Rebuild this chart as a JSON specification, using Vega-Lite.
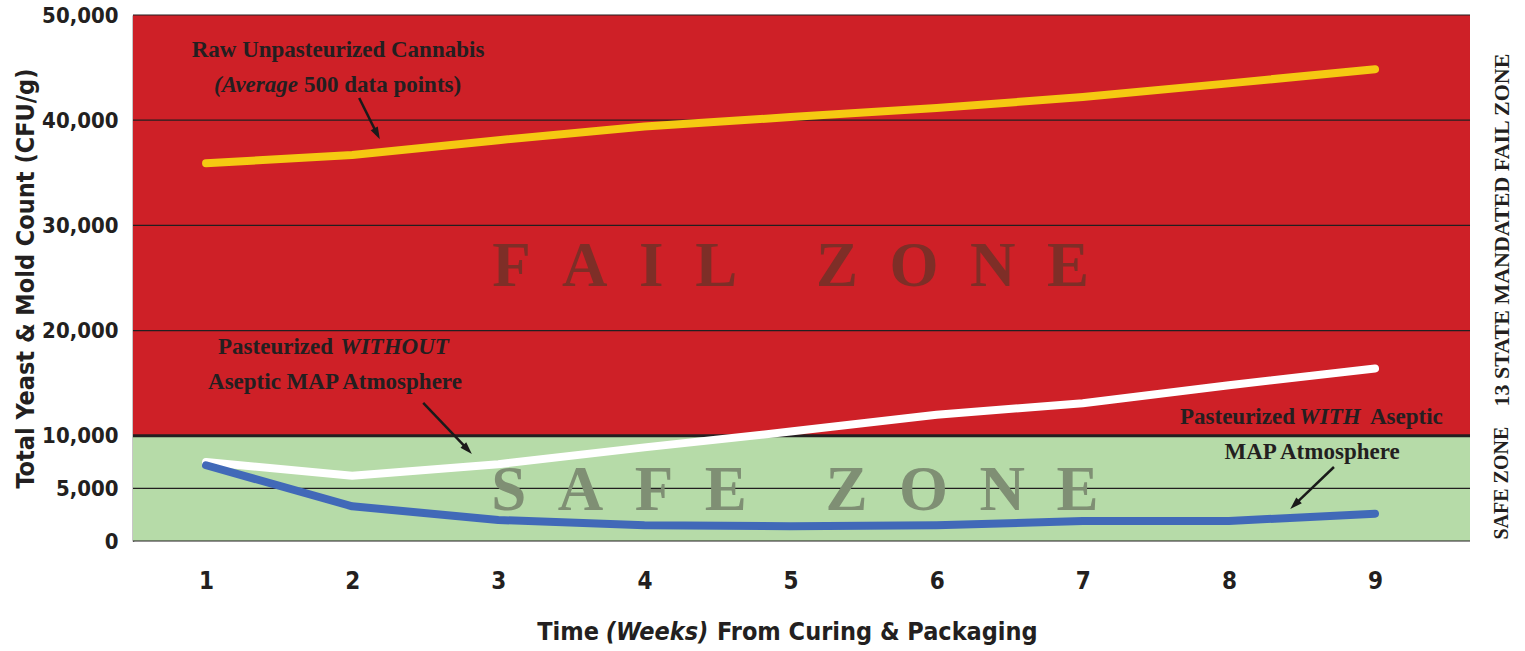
{
  "$schema": "https://vega.github.io/schema/vega-lite/v6.json",
  "width": 1337,
  "height": 526,
  "autosize": "none",
  "padding": {"left": 133, "top": 15, "right": 55, "bottom": 110},
  "background": "white",
  "config": {"view": {"stroke": null}},
  "datasets": {
    "series": [
      {"week": 1, "series": "Raw", "cfu": 35900},
      {"week": 2, "series": "Raw", "cfu": 36700},
      {"week": 3, "series": "Raw", "cfu": 38100},
      {"week": 4, "series": "Raw", "cfu": 39400},
      {"week": 5, "series": "Raw", "cfu": 40300},
      {"week": 6, "series": "Raw", "cfu": 41150},
      {"week": 7, "series": "Raw", "cfu": 42200},
      {"week": 8, "series": "Raw", "cfu": 43500},
      {"week": 9, "series": "Raw", "cfu": 44850},
      {"week": 1, "series": "Without", "cfu": 7500},
      {"week": 2, "series": "Without", "cfu": 6200},
      {"week": 3, "series": "Without", "cfu": 7300},
      {"week": 4, "series": "Without", "cfu": 8900},
      {"week": 5, "series": "Without", "cfu": 10400},
      {"week": 6, "series": "Without", "cfu": 12000},
      {"week": 7, "series": "Without", "cfu": 13100},
      {"week": 8, "series": "Without", "cfu": 14800},
      {"week": 9, "series": "Without", "cfu": 16400},
      {"week": 1, "series": "With", "cfu": 7200},
      {"week": 2, "series": "With", "cfu": 3300},
      {"week": 3, "series": "With", "cfu": 2000},
      {"week": 4, "series": "With", "cfu": 1500},
      {"week": 5, "series": "With", "cfu": 1400},
      {"week": 6, "series": "With", "cfu": 1500},
      {"week": 7, "series": "With", "cfu": 1900},
      {"week": 8, "series": "With", "cfu": 1900},
      {"week": 9, "series": "With", "cfu": 2600}
    ],
    "zones": [
      {"zone": "fail", "lo": 10000, "hi": 50000, "from": 0.5, "to": 9.65},
      {"zone": "safe", "lo": 0, "hi": 10000, "from": 0.5, "to": 9.65}
    ],
    "grid": [{"v": 0}, {"v": 5000}, {"v": 20000}, {"v": 30000}, {"v": 40000}, {"v": 50000}],
    "threshold": [{"v": 10000}],
    "arrows": [
      {"id": "raw", "x1": 2.048, "y1": 42110, "x2": 2.17, "y2": 38700},
      {"id": "without", "x1": 2.486, "y1": 13120, "x2": 2.79, "y2": 8700},
      {"id": "with", "x1": 8.719, "y1": 7034, "x2": 8.45, "y2": 3450}
    ]
  },
  "layer": [
    {
      "data": {"name": "zones"},
      "transform": [{"filter": "datum.zone === 'fail'"}],
      "mark": {"type": "rect", "color": "#CE2027"},
      "encoding": {
        "x": {"field": "from", "type": "quantitative",
              "scale": {"domain": [0.5, 9.65], "nice": false, "zero": false},
              "axis": {"values": [1, 2, 3, 4, 5, 6, 7, 8, 9], "format": "d",
                       "labelFont": "DejaVu Sans Condensed, Roboto", "labelFontWeight": "bold", "labelFontSize": 24,
                       "labelColor": "#231F20", "labelPadding": 28, "domain": false, "ticks": false, "grid": false,
                       "title": null}},
        "x2": {"field": "to"},
        "y": {"field": "lo", "type": "quantitative",
              "scale": {"domain": [0, 50000], "nice": false, "zero": true},
              "axis": {"values": [0, 5000, 10000, 20000, 30000, 40000, 50000], "format": ",.0f",
                       "labelFont": "DejaVu Sans Condensed, Roboto", "labelFontWeight": "bold", "labelFontSize": 22,
                       "labelColor": "#231F20", "labelPadding": 15, "ticks": false, "grid": false,
                       "domain": true, "domainColor": "#231F20", "domainWidth": 1.5,
                       "title": "Total Yeast & Mold Count (CFU/g)",
                       "titleFont": "DejaVu Sans Condensed, Roboto", "titleFontWeight": "bold", "titleFontSize": 25,
                       "titleColor": "#231F20", "titleBaseline": "middle", "titleAngle": -90,
                       "titleX": -108, "titleY": 263}},
        "y2": {"field": "hi"}
      }
    },
    {
      "data": {"name": "zones"},
      "transform": [{"filter": "datum.zone === 'safe'"}],
      "mark": {"type": "rect", "color": "#B6DBA8"},
      "encoding": {
        "x": {"field": "from", "type": "quantitative"},
        "x2": {"field": "to"},
        "y": {"field": "lo", "type": "quantitative"},
        "y2": {"field": "hi"}
      }
    },
    {
      "data": {"name": "grid"},
      "mark": {"type": "rule", "color": "#231F20", "strokeWidth": 1.2},
      "encoding": {"y": {"field": "v", "type": "quantitative"}}
    },
    {
      "data": {"name": "threshold"},
      "mark": {"type": "rule", "color": "#231F20", "strokeWidth": 3},
      "encoding": {"y": {"field": "v", "type": "quantitative"}}
    },
    {
      "data": {"values": [{"label": "F\u00a0\u00a0A\u00a0\u00a0I\u00a0\u00a0L\u00a0\u00a0\u00a0\u00a0\u00a0Z\u00a0\u00a0O\u00a0\u00a0N\u00a0\u00a0E", "x": 5.0, "y": 26000}]},
      "mark": {"type": "text", "font": "Liberation Serif", "fontWeight": "bold", "fontSize": 63,
               "color": "#7E2E27", "align": "center", "baseline": "middle"},
      "encoding": {
        "x": {"field": "x", "type": "quantitative"},
        "y": {"field": "y", "type": "quantitative"},
        "text": {"field": "label"}
      }
    },
    {
      "data": {"values": [{"label": "S\u00a0\u00a0A\u00a0\u00a0F\u00a0\u00a0E\u00a0\u00a0\u00a0\u00a0\u00a0Z\u00a0\u00a0O\u00a0\u00a0N\u00a0\u00a0E", "x": 5.03, "y": 4800}]},
      "mark": {"type": "text", "font": "Liberation Serif", "fontWeight": "bold", "fontSize": 63,
               "color": "#7F8F74", "align": "center", "baseline": "middle"},
      "encoding": {
        "x": {"field": "x", "type": "quantitative"},
        "y": {"field": "y", "type": "quantitative"},
        "text": {"field": "label"}
      }
    },
    {
      "data": {"name": "series"},
      "mark": {"type": "line", "strokeWidth": 8, "strokeCap": "round", "strokeJoin": "round"},
      "encoding": {
        "x": {"field": "week", "type": "quantitative"},
        "y": {"field": "cfu", "type": "quantitative"},
        "color": {"field": "series", "type": "nominal",
                  "scale": {"domain": ["Raw", "Without", "With"], "range": ["#F5C912", "#FFFFFF", "#4169B8"]},
                  "legend": null}
      }
    },
    {
      "data": {"name": "arrows"},
      "mark": {"type": "rule", "color": "#1A1A1A", "strokeWidth": 2.5},
      "encoding": {
        "x": {"field": "x1", "type": "quantitative"},
        "y": {"field": "y1", "type": "quantitative"},
        "x2": {"field": "x2"},
        "y2": {"field": "y2"}
      }
    },
    {
      "data": {"name": "arrows"},
      "transform": [{"filter": "datum.id === 'raw'"}],
      "mark": {"type": "point", "shape": "M0,-1L0.65,1L-0.65,1Z", "filled": true, "color": "#1A1A1A",
               "opacity": 1, "size": 150, "angle": 153},
      "encoding": {
        "x": {"field": "x2", "type": "quantitative"},
        "y": {"field": "y2", "type": "quantitative"}
      }
    },
    {
      "data": {"name": "arrows"},
      "transform": [{"filter": "datum.id === 'without'"}],
      "mark": {"type": "point", "shape": "M0,-1L0.65,1L-0.65,1Z", "filled": true, "color": "#1A1A1A",
               "opacity": 1, "size": 150, "angle": 136},
      "encoding": {
        "x": {"field": "x2", "type": "quantitative"},
        "y": {"field": "y2", "type": "quantitative"}
      }
    },
    {
      "data": {"name": "arrows"},
      "transform": [{"filter": "datum.id === 'with'"}],
      "mark": {"type": "point", "shape": "M0,-1L0.65,1L-0.65,1Z", "filled": true, "color": "#1A1A1A",
               "opacity": 1, "size": 150, "angle": 226},
      "encoding": {
        "x": {"field": "x2", "type": "quantitative"},
        "y": {"field": "y2", "type": "quantitative"}
      }
    },
    {
      "data": {"values": [
        {"label": "Raw Unpasteurized Cannabis", "x": 1.903, "y": 46670},
        {"label": "Aseptic MAP Atmosphere", "x": 1.882, "y": 15110},
        {"label": "MAP Atmosphere", "x": 8.569, "y": 8460}
      ]},
      "mark": {"type": "text", "font": "Liberation Serif", "fontWeight": "bold", "fontSize": 23,
               "color": "#231F20", "align": "center", "baseline": "middle"},
      "encoding": {
        "x": {"field": "x", "type": "quantitative"},
        "y": {"field": "y", "type": "quantitative"},
        "text": {"field": "label"}
      }
    },
    {
      "data": {"values": [
        {"label": "Pasteurized", "x": 1.869, "y": 18440},
        {"label": "Pasteurized", "x": 8.452, "y": 11785}
      ]},
      "mark": {"type": "text", "font": "Liberation Serif", "fontWeight": "bold", "fontSize": 23,
               "color": "#231F20", "align": "right", "baseline": "middle"},
      "encoding": {
        "x": {"field": "x", "type": "quantitative"},
        "y": {"field": "y", "type": "quantitative"},
        "text": {"field": "label"}
      }
    },
    {
      "data": {"values": [
        {"label": "500 data points)", "x": 1.67, "y": 43350},
        {"label": "Aseptic", "x": 8.965, "y": 11785}
      ]},
      "mark": {"type": "text", "font": "Liberation Serif", "fontWeight": "bold", "fontSize": 23,
               "color": "#231F20", "align": "left", "baseline": "middle"},
      "encoding": {
        "x": {"field": "x", "type": "quantitative"},
        "y": {"field": "y", "type": "quantitative"},
        "text": {"field": "label"}
      }
    },
    {
      "data": {"values": [
        {"label": "(Average", "x": 1.629, "y": 43350}
      ]},
      "mark": {"type": "text", "font": "Liberation Serif", "fontWeight": "bold", "fontStyle": "italic", "fontSize": 23,
               "color": "#231F20", "align": "right", "baseline": "middle"},
      "encoding": {
        "x": {"field": "x", "type": "quantitative"},
        "y": {"field": "y", "type": "quantitative"},
        "text": {"field": "label"}
      }
    },
    {
      "data": {"values": [
        {"label": "WITHOUT", "x": 1.918, "y": 18440}
      ]},
      "mark": {"type": "text", "font": "Liberation Serif", "fontWeight": "bold", "fontStyle": "italic", "fontSize": 23,
               "color": "#231F20", "align": "left", "baseline": "middle"},
      "encoding": {
        "x": {"field": "x", "type": "quantitative"},
        "y": {"field": "y", "type": "quantitative"},
        "text": {"field": "label"}
      }
    },
    {
      "data": {"values": [
        {"label": "WITH", "x": 8.692, "y": 11785}
      ]},
      "mark": {"type": "text", "font": "Liberation Serif", "fontWeight": "bold", "fontStyle": "italic", "fontSize": 23,
               "color": "#231F20", "align": "center", "baseline": "middle"},
      "encoding": {
        "x": {"field": "x", "type": "quantitative"},
        "y": {"field": "y", "type": "quantitative"},
        "text": {"field": "label"}
      }
    },
    {
      "data": {"values": [
        {"label": "SAFE ZONE", "x": 9.87, "y": 5500}
      ]},
      "mark": {"type": "text", "font": "Liberation Serif", "fontWeight": "bold", "fontSize": 20,
               "color": "#231F20", "align": "center", "baseline": "middle", "angle": 270},
      "encoding": {
        "x": {"field": "x", "type": "quantitative"},
        "y": {"field": "y", "type": "quantitative"},
        "text": {"field": "label"}
      }
    },
    {
      "data": {"values": [
        {"label": "13 STATE MANDATED FAIL ZONE", "x": 9.87, "y": 29560}
      ]},
      "mark": {"type": "text", "font": "Liberation Serif", "fontWeight": "bold", "fontSize": 22,
               "color": "#231F20", "align": "center", "baseline": "middle", "angle": 270},
      "encoding": {
        "x": {"field": "x", "type": "quantitative"},
        "y": {"field": "y", "type": "quantitative"},
        "text": {"field": "label"}
      }
    },
    {
      "data": {"values": [
        {"label": "Time", "x": 3.689, "y": -8650}
      ]},
      "mark": {"type": "text", "font": "DejaVu Sans Condensed, Roboto", "fontWeight": "bold", "fontSize": 25,
               "color": "#231F20", "align": "right", "baseline": "middle"},
      "encoding": {
        "x": {"field": "x", "type": "quantitative"},
        "y": {"field": "y", "type": "quantitative"},
        "text": {"field": "label"}
      }
    },
    {
      "data": {"values": [
        {"label": "(Weeks)", "x": 4.086, "y": -8650}
      ]},
      "mark": {"type": "text", "font": "DejaVu Sans Condensed, Roboto", "fontWeight": "bold", "fontStyle": "italic", "fontSize": 25,
               "color": "#231F20", "align": "center", "baseline": "middle"},
      "encoding": {
        "x": {"field": "x", "type": "quantitative"},
        "y": {"field": "y", "type": "quantitative"},
        "text": {"field": "label"}
      }
    },
    {
      "data": {"values": [
        {"label": "From Curing & Packaging", "x": 4.497, "y": -8650}
      ]},
      "mark": {"type": "text", "font": "DejaVu Sans Condensed, Roboto", "fontWeight": "bold", "fontSize": 25,
               "color": "#231F20", "align": "left", "baseline": "middle"},
      "encoding": {
        "x": {"field": "x", "type": "quantitative"},
        "y": {"field": "y", "type": "quantitative"},
        "text": {"field": "label"}
      }
    }
  ]
}
